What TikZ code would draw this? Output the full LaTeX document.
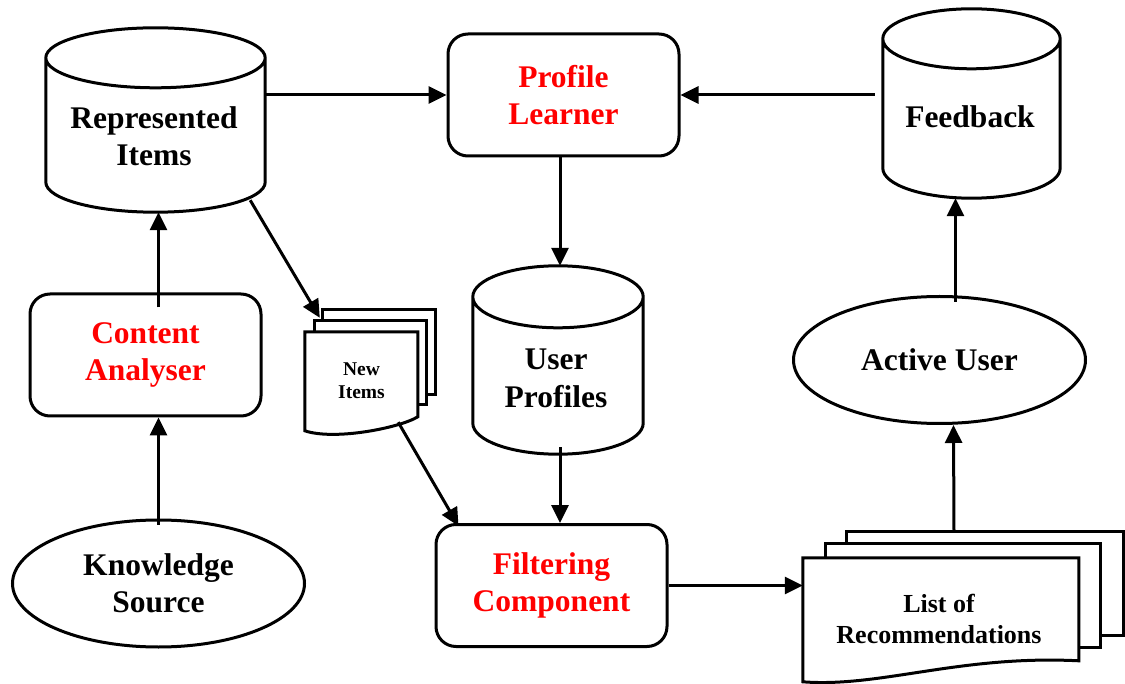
\documentclass[tikz,border=0pt]{standalone}
\usepackage{fontspec}
\setmainfont{Liberation Serif}
\usetikzlibrary{arrows.meta,calc,shapes.geometric}

\tikzset{
  shapeline/.style={line width=3pt, draw=black},
  conn/.style={line width=3pt, -{Triangle[length=18pt,width=17pt]}},
  bigtext/.style={font=\fontsize{31.5pt}{37.5pt}\selectfont\bfseries, align=center, inner sep=0pt},
  midtext/.style={font=\fontsize{26pt}{31pt}\selectfont\bfseries, align=center, inner sep=0pt},
  smalltext/.style={font=\fontsize{19.5pt}{23pt}\selectfont\bfseries, align=center, inner sep=0pt},
  redtext/.style={bigtext, text=red},
  roundbox/.style={shapeline, rounded corners=20pt, rectangle, inner sep=0pt,
    minimum width=231pt, minimum height=122pt, fill=white},
  oval/.style={shapeline, ellipse, inner sep=0pt, minimum width=292pt, minimum height=127pt},
  anchorbox/.style={rectangle, inner sep=0pt, draw=none},
  sheet/.style={shapeline, fill=white, line join=miter},
}

% database drum drawn inside the rectangle of a named node
\newcommand\drumoutline[2]{%
  \draw[shapeline, fill=white] let \p1=(#1.north east), \p2=(#1.south west),
      \n1={(\x1-\x2)/2} in
    (\x2,{\y1-#2}) -- (\x2,{\y2+#2})
    arc[start angle=180, end angle=360, x radius={\n1*1pt}, y radius=#2]
    -- (\x1,{\y1-#2})
    ({(\x1+\x2)/2},{\y1-#2}) ellipse[x radius={\n1*1pt}, y radius=#2];
}

\begin{document}
\begin{tikzpicture}[x=1pt, y=-1pt]
\useasboundingbox (0,0) rectangle (1125,684);

% data stores
\node[anchorbox, minimum width=219pt, minimum height=184pt] (items) at (155.5,120) {};
\node[anchorbox, minimum width=177pt, minimum height=189pt] (feedback) at (971.5,103.5) {};
\node[anchorbox, minimum width=170pt, minimum height=188pt] (profiles) at (558,360) {};
\drumoutline{items}{30pt}
\drumoutline{feedback}{30pt}
\drumoutline{profiles}{31pt}
\node[bigtext] (items-text) at (154,136) {Represented\\Items};
\node[bigtext] (feedback-text) at (970,117) {Feedback};
\node[bigtext] (profiles-text) at (556,378.5) {User\\Profiles};

% processing components
\node[roundbox, redtext] (learner) at (563.5,95) {Profile\\Learner};
\node[roundbox, redtext] (analyser) at (145.5,355) {Content\\Analyser};
\node[roundbox, redtext] (filtering) at (551.5,585.5) {Filtering\\Component};

% actors and sources
\node[oval, bigtext] (activeuser) at (939.5,360) {Active User};
\node[oval, bigtext] (knowledge) at (158.5,583.5) {Knowledge\\Source};

% stacked documents: new items
\node[anchorbox, minimum width=113pt, minimum height=98pt] (newitems) at (361.5,381) {};
\draw[sheet] let \p1=(newitems.north west) in
  ({\x1+18pt},{\y1+22pt}) rectangle ({\x1+131pt},{\y1-63pt});
\draw[sheet] let \p1=(newitems.north west) in
  ({\x1+10pt},{\y1+11pt}) rectangle ({\x1+122pt},{\y1-73pt});
\draw[sheet] let \p1=(newitems.north west) in
  (\x1,\y1) -- ({\x1+113pt},\y1) -- ({\x1+113pt},{\y1-85pt})
  .. controls ({\x1+95pt},{\y1-96pt}) and ({\x1+30pt},{\y1-109pt}) .. (\x1,{\y1-99pt}) -- cycle;
\node[smalltext] (newitems-text) at (newitems.center) {New\\Items};

% stacked documents: recommendation list
\node[anchorbox, minimum width=276pt, minimum height=122pt] (reclist) at (941,619) {};
\draw[sheet] let \p1=(reclist.north west) in
  ({\x1+44pt},{\y1+26pt}) rectangle ({\x1+321pt},{\y1-78pt});
\draw[sheet] let \p1=(reclist.north west) in
  ({\x1+23pt},{\y1+14pt}) rectangle ({\x1+298pt},{\y1-90pt});
\draw[sheet] let \p1=(reclist.north west) in
  (\x1,\y1) -- ({\x1+276pt},\y1) -- ({\x1+276pt},{\y1-103pt})
  .. controls ({\x1+157pt},{\y1-97pt}) and ({\x1+77pt},{\y1-130pt}) .. (\x1,{\y1-124pt}) -- cycle;
\node[midtext] (reclist-text) at ([xshift=-2pt]reclist.center) {List of\\Recommendations};

% connectors
\draw[conn] (learner.west -| items.east) -- (learner.west);
\draw[conn] ($(learner.east -| feedback.west)+(-8pt,0pt)$) -- (learner.east);
\draw[conn] ($(learner.south -| profiles.north)+(2pt,0pt)$) -- ($(profiles.north)+(2pt,0pt)$);
\draw[conn] ($(profiles.south)+(2pt,7pt)$) -- ($(filtering.north -| profiles.south)+(2pt,0pt)$);
\draw[conn] ($(analyser.north -| knowledge.north)+(0pt,-15pt)$) -- (items.south -| knowledge.north);
\draw[conn] ($(knowledge.north)+(0pt,-6pt)$) -- (analyser.south -| knowledge.north);
\draw[conn] ($(items.south east)+(-15pt,12pt)$) -- ($(newitems.north west)+(15pt,14pt)$);
\draw[conn] ($(newitems.south east)+(-20pt,8pt)$) -- ($(filtering.north west)+(24pt,-3pt)$);
\draw[conn] (filtering.east) -- (reclist.west |- filtering.east);
\draw[conn] ($(reclist.north)+(13pt,26pt)$) -- ($(activeuser.south)+(14pt,0pt)$);
\draw[conn] ($(activeuser.north)+(16pt,-7pt)$) -- ($(feedback.south -| activeuser.north)+(16pt,0pt)$);
\end{tikzpicture}
\end{document}
